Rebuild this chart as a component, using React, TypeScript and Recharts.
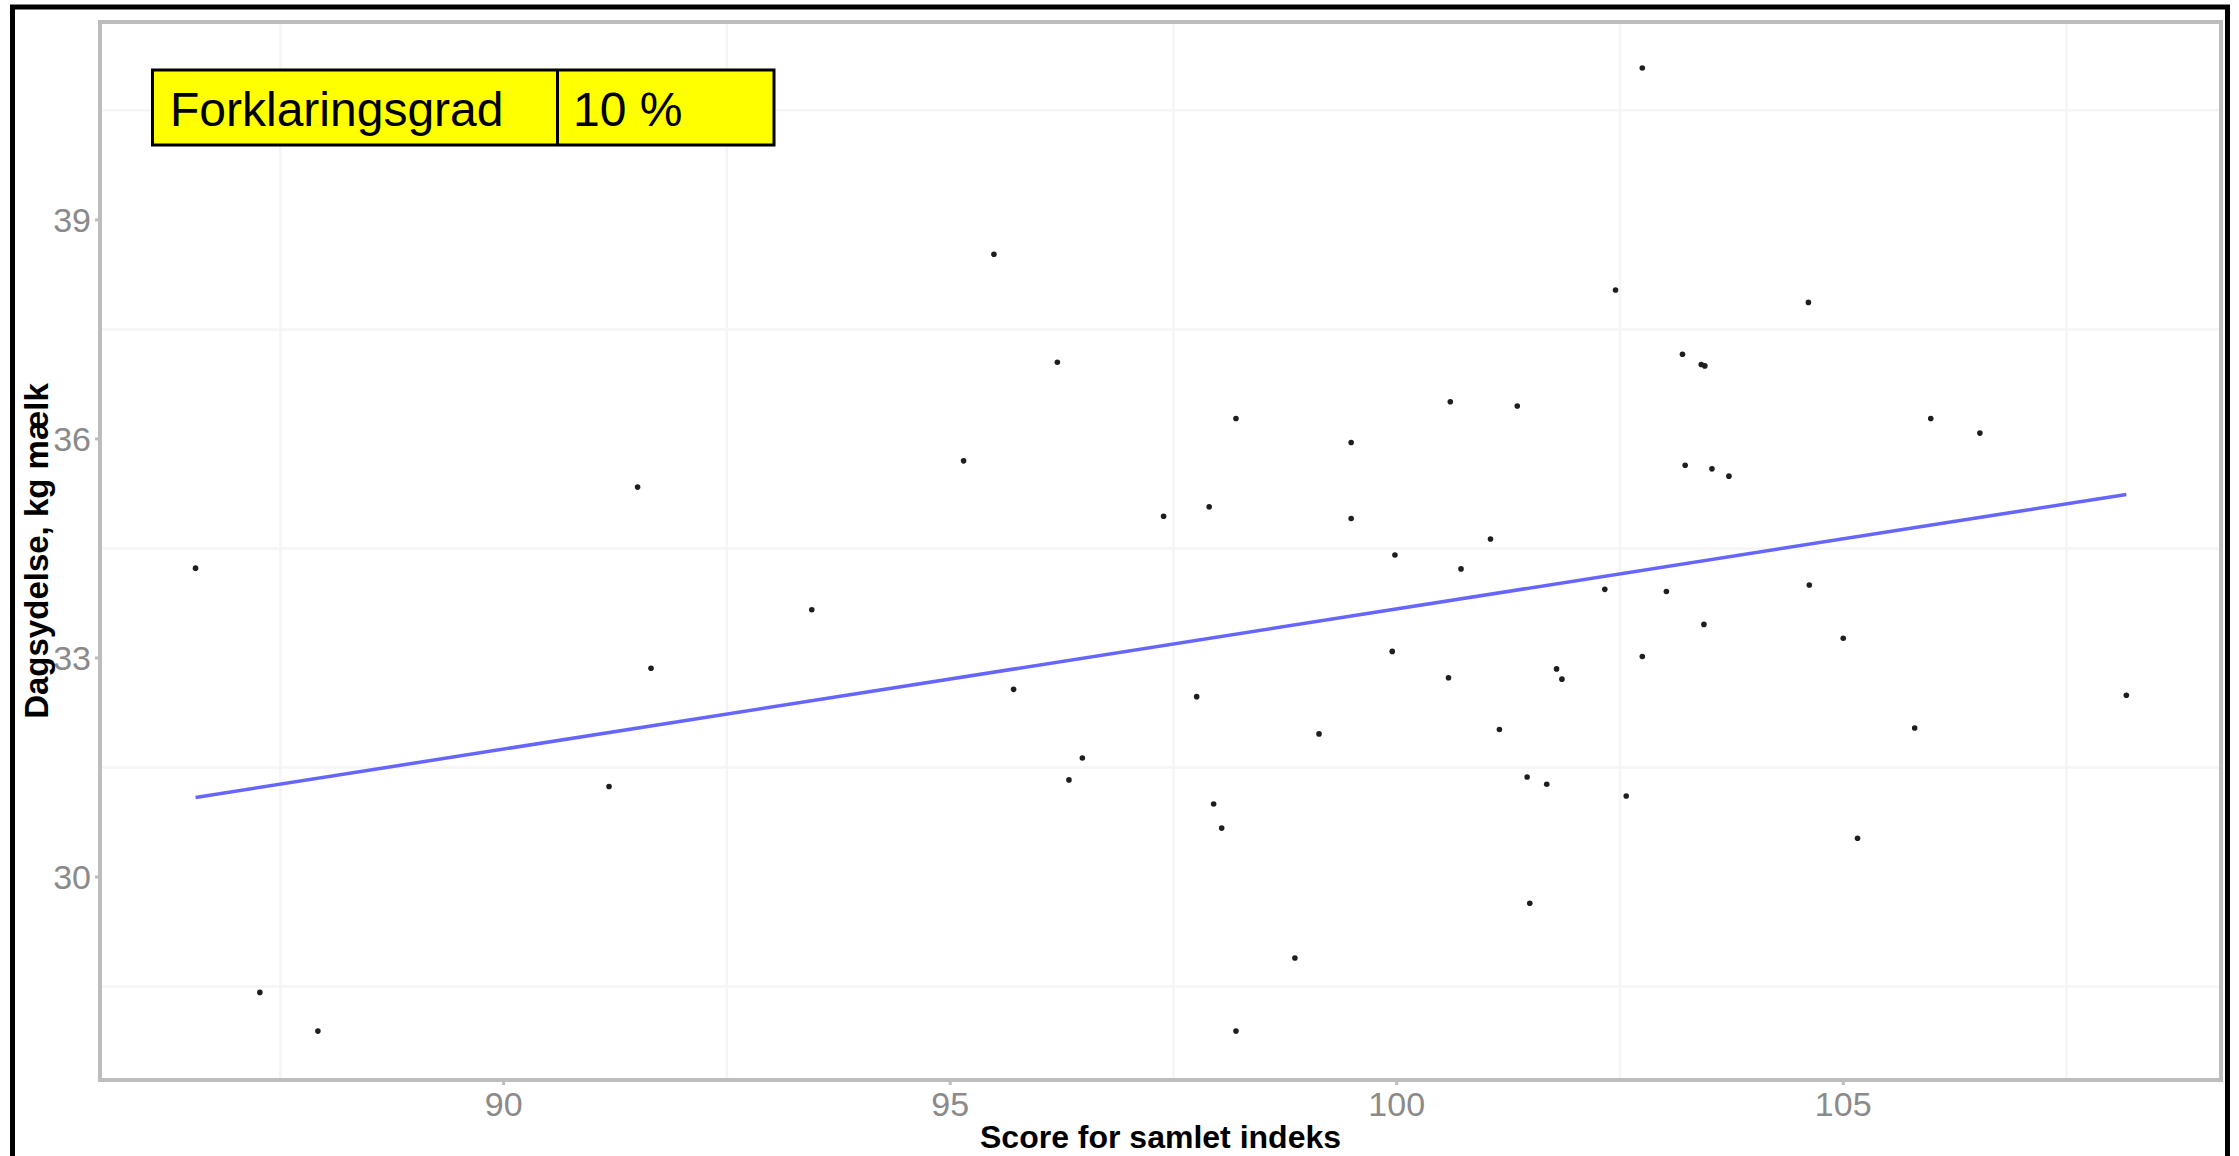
import React from "react";
import {
  ScatterChart,
  Scatter,
  XAxis,
  YAxis,
  CartesianGrid,
  ReferenceArea,
} from "recharts";

// Score for samlet indeks (x) and Dagsydelse, kg mælk (y), one entry per herd
const scoreIndex = [
  86.55, 87.27, 87.92, 91.18, 91.5, 91.65, 93.45, 95.15, 95.49, 95.71, 96.2,
  96.33, 96.48, 97.39, 97.76, 97.9, 97.95, 98.04, 98.2, 98.2, 98.86, 99.13,
  99.49, 99.49, 99.98, 99.95, 100.58, 100.6, 100.72, 101.05, 101.15, 101.35,
  101.46, 101.49, 101.68, 101.79, 101.85, 102.33, 102.45, 102.57, 102.75,
  102.75, 103.02, 103.2, 103.23, 103.41, 103.44, 103.45, 103.53, 103.72,
  104.61, 104.62, 105.0, 105.16, 105.8, 105.98, 106.53, 108.17,
];
const dailyYield = [
  34.23, 28.42, 27.89, 31.24, 35.34, 32.86, 33.66, 35.7, 38.53, 32.57, 37.05,
  31.33, 31.63, 34.94, 32.47, 35.07, 31.0, 30.67, 36.28, 27.89, 28.89, 31.96,
  35.95, 34.91, 34.41, 33.09, 32.73, 36.51, 34.22, 34.63, 32.02, 36.45, 31.37,
  29.64, 31.27, 32.85, 32.71, 33.94, 38.04, 31.11, 33.02, 41.08, 33.91, 37.16,
  35.64, 37.02, 33.46, 37.0, 35.59, 35.49, 37.87, 34.0, 33.27, 30.53, 32.04,
  36.28, 36.08, 32.49,
];

// fitted regression line (end points)
const fitX = [86.55, 108.17];
const fitY = [31.09, 35.24];

const xTicks = [90, 95, 100, 105];
const yTicks = [30, 33, 36, 39];
const xMinor = [87.5, 92.5, 97.5, 102.5, 107.5];
const yMinor = [28.5, 31.5, 34.5, 37.5, 40.5];
const xDomain = [85.48, 109.23];
const yDomain = [27.22, 41.71];

const r2Label = "Forklaringsgrad";
const r2Value = "10 %";

const points = scoreIndex.map((x, i) => ({ x, y: dailyYield[i] }));
const fitData = fitX.map((x, i) => ({ x, y: fitY[i] }));

const FONT = '"Liberation Sans", Arial, sans-serif';
const AXIS_GREY = "#bdbdbd";

const Dot = (props: any) => (
  <circle cx={props.cx} cy={props.cy} r={2.8} fill="#1e1e1e" />
);

const App = () => {
  return (
    <div
      style={{
        position: "absolute",
        left: 0,
        top: 0,
        width: 2239,
        height: 1156,
        background: "#fff",
        fontFamily: FONT,
      }}
    >
      <ScatterChart
        width={2239}
        height={1156}
        margin={{ top: 22, right: 18, bottom: 0, left: 0 }}
      >
        <CartesianGrid
          stroke="#f5f5f5"
          strokeWidth={2.5}
          horizontalValues={[...yTicks, ...yMinor]}
          verticalValues={[...xTicks, ...xMinor]}
        />
        <XAxis
          type="number"
          dataKey="x"
          domain={xDomain}
          allowDataOverflow
          ticks={xTicks}
          height={76}
          tickSize={5}
          tickMargin={7}
          axisLine={{ stroke: AXIS_GREY, strokeWidth: 4 }}
          tickLine={{ stroke: AXIS_GREY, strokeWidth: 3 }}
          tick={{ fill: "#8a8a8a", fontSize: 34, fontFamily: FONT }}
          label={{
            value: "Score for samlet indeks",
            position: "insideBottom",
            offset: 8,
            style: { fill: "#000", fontSize: 32, fontWeight: 700, fontFamily: FONT },
          }}
        />
        <YAxis
          type="number"
          dataKey="y"
          domain={yDomain}
          allowDataOverflow
          ticks={yTicks}
          width={100}
          tickSize={5}
          tickMargin={4}
          axisLine={{ stroke: AXIS_GREY, strokeWidth: 4 }}
          tickLine={{ stroke: AXIS_GREY, strokeWidth: 3 }}
          tick={{ fill: "#8a8a8a", fontSize: 34, fontFamily: FONT }}
          label={{
            value: "Dagsydelse, kg mælk",
            angle: -90,
            position: "insideLeft",
            offset: 36,
            style: {
              fill: "#000",
              fontSize: 33,
              fontWeight: 700,
              fontFamily: FONT,
              textAnchor: "middle",
            },
          }}
        />
        <ReferenceArea
          x1={xDomain[0]}
          x2={xDomain[1]}
          y1={yDomain[0]}
          y2={yDomain[1]}
          fill="none"
          stroke={AXIS_GREY}
          strokeWidth={4}
        />
        <Scatter
          data={fitData}
          line={{ stroke: "#6666ff", strokeWidth: 3.5 }}
          shape={() => <g />}
          isAnimationActive={false}
        />
        <Scatter
          data={points}
          shape={Dot}
          isAnimationActive={false}
        />
      </ScatterChart>

      {/* R² box and outer frame */}
      <svg
        width={2239}
        height={1156}
        style={{ position: "absolute", left: 0, top: 0, pointerEvents: "none" }}
      >
        <rect x={152.5} y={70} width={621.5} height={75} fill="#ffff00" stroke="#000" strokeWidth={3} />
        <line x1={557.5} y1={70} x2={557.5} y2={145} stroke="#000" strokeWidth={3} />
        <text x={170} y={126} fontSize={48} fontFamily={FONT} fill="#000">
          {r2Label}
        </text>
        <text x={573} y={126} fontSize={48} fontFamily={FONT} fill="#000">
          {r2Value}
        </text>
        <line x1={12.5} y1={5} x2={12.5} y2={1156} stroke="#000" strokeWidth={5} />
        <line x1={10} y1={7} x2={2230} y2={7} stroke="#000" strokeWidth={5} />
        <line x1={2227.5} y1={5} x2={2227.5} y2={1156} stroke="#000" strokeWidth={5} />
      </svg>
    </div>
  );
};

export default App;
